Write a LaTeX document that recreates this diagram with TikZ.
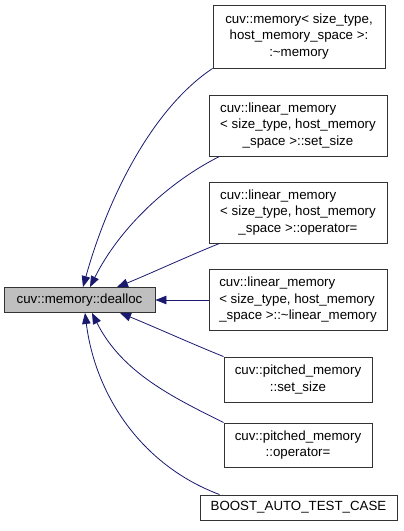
\documentclass[tikz,border=0pt]{standalone}
\usepackage{fontspec}
\setmainfont{Liberation Sans}
\usepackage{xcolor}
\usetikzlibrary{arrows.meta}

\definecolor{edgeblue}{HTML}{191970}
% two left lines, last line centred
\newcommand{\splitname}[3]{\begin{tabular}{@{}l@{}}#1\\#2\\\multicolumn{1}{@{}c@{}}{#3}\end{tabular}}

\begin{document}
\begin{tikzpicture}[
    x=1bp, y=-1bp,
    > = {Triangle[length=11bp,width=8.5bp]}, % arrow head style
    every node/.style={font=\fontsize{13.3bp}{16.5bp}\selectfont},
    fn/.style={draw=black!80, line width=0.9bp, inner sep=0pt, align=center},
    link/.style={->, draw=edgeblue, line width=0.8bp}
]
\useasboundingbox (0,0) rectangle (403,531);

% Nodes
\node[fn, fill=gray!50, minimum width=151bp, minimum height=25bp] (dealloc) at (79.5,300) {cuv::memory::dealloc};
\node[fn, minimum width=172bp, minimum height=63bp] (dtor) at (299,36.5) {cuv::memory< size\_type,\\ host\_memory\_space >:\\ :\textasciitilde memory};
\node[fn, minimum width=178bp, minimum height=61bp] (linsetsize) at (298,125.5) {\splitname{cuv::linear\_memory}{< size\_type, host\_memory}{\_space >::set\_size}};
\node[fn, minimum width=178bp, minimum height=61bp] (linassign) at (298,212.5) {\splitname{cuv::linear\_memory}{< size\_type, host\_memory}{\_space >::operator=}};
\node[fn, minimum width=178bp, minimum height=61bp] (lindtor) at (298,300) {\splitname{cuv::linear\_memory}{< size\_type, host\_memory}{\_space >::\textasciitilde linear\_memory}};
\node[fn, minimum width=148bp, minimum height=45bp] (pitchsetsize) at (298,379.5) {cuv::pitched\_memory\\::set\_size};
\node[fn, minimum width=148bp, minimum height=44bp] (pitchassign) at (298,445) {cuv::pitched\_memory\\::operator=};
\node[fn, minimum width=197bp, minimum height=25bp] (boosttest) at (298.5,507.5) {BOOST\_AUTO\_TEST\_CASE};

% Edges (callers to dealloc)
\draw[link] (dtor.south west) .. controls +(-60,40) and +(25,-90) .. ([xshift=3.5bp]dealloc.north);
\draw[link] ([xshift=11bp]linsetsize.south west) .. controls +(-50,25) and +(30,-60) .. ([xshift=10.5bp]dealloc.north);
\draw[link] ([xshift=11bp]linassign.south west) .. controls +(-30,12) and +(30,-12) .. ([xshift=37.5bp]dealloc.north);
\draw[link] (lindtor.west) -- (dealloc.east);
\draw[link] (pitchsetsize.north west) .. controls +(-30,-12) and +(30,12) .. ([xshift=40.5bp]dealloc.south);
\draw[link] (pitchassign.north west) .. controls +(-50,-25) and +(30,60) .. ([xshift=12.5bp]dealloc.south);
\draw[link] ([xshift=20bp]boosttest.north west) .. controls +(-80,-30) and +(10,80) .. ([xshift=5.5bp]dealloc.south);

\end{tikzpicture}
\end{document}
